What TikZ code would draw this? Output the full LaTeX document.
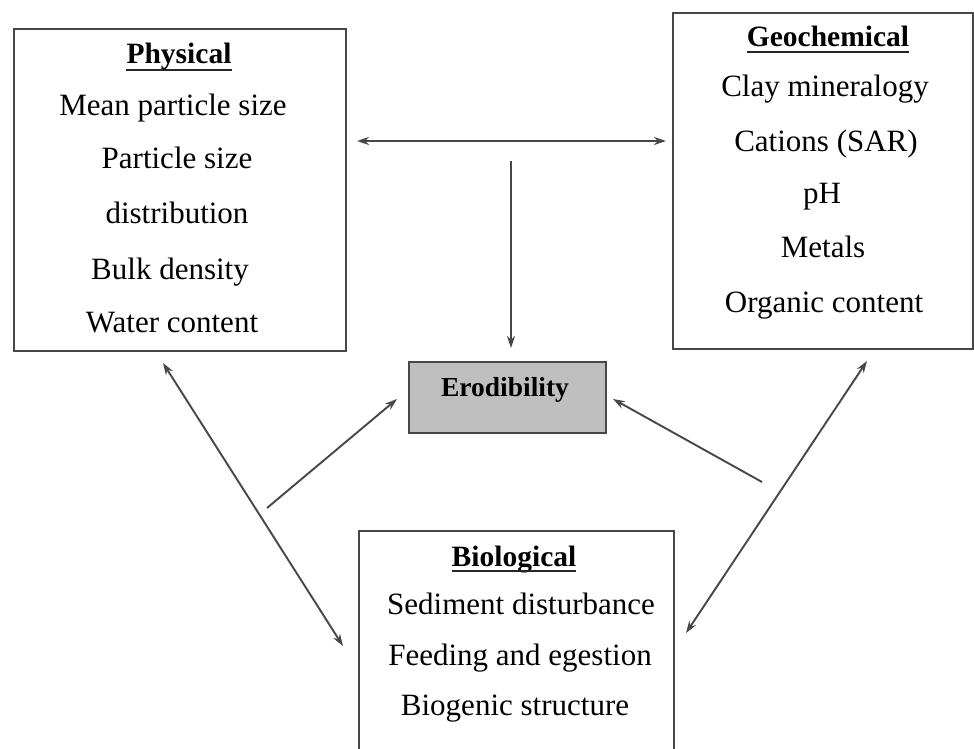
\documentclass[tikz,border=0pt]{standalone}
\usepackage{fontspec}
\setmainfont{Liberation Serif}
\usetikzlibrary{arrows.meta}
\begin{document}
\begin{tikzpicture}[x=1pt,y=-1pt,
  box/.style={draw=black!72,line width=2pt,inner sep=0pt,anchor=north west},
  txt/.style={inner sep=0pt,anchor=base,font=\fontsize{31}{37}\selectfont},
  head/.style={inner sep=0pt,anchor=base,font=\fontsize{29.5}{35}\selectfont\bfseries},
  uline/.style={line width=2.4pt,draw=black!85},
  conn/.style={draw=black!72,line width=1.9pt,-{Stealth[length=12pt,width=8pt]}},
  bicon/.style={draw=black!72,line width=1.9pt,{Stealth[length=12pt,width=8pt]}-{Stealth[length=12pt,width=8pt]}}]
\useasboundingbox (0,0) rectangle (974,749);
\clip (0,0) rectangle (974,749);
\fill[white] (0,0) rectangle (974,749);

% boxes
\node[box,minimum width=332pt,minimum height=322pt] (phys) at (13,28) {};
\node[box,minimum width=300pt,minimum height=336pt] (geo) at (672,12) {};
\node[box,fill=black!25,minimum width=197pt,minimum height=71pt] (ero) at (408,361) {};
\node[box,minimum width=315pt,minimum height=240pt] (bio) at (358,530) {};

% Physical
\node[head] (phH) at (179,64) {Physical};
\draw[uline] ([yshift=-6pt]phH.base west) -- ([yshift=-6pt]phH.base east);
\node[txt] (ph1) at (173,116) {Mean particle size};
\node[txt] (ph2) at (177,168) {Particle size};
\node[txt] (ph3) at (177,223) {distribution};
\node[txt] (ph4) at (170,279) {Bulk density};
\node[txt] (ph5) at (172,332) {Water content};

% Geochemical
\node[head] (geH) at (828,47) {Geochemical};
\draw[uline] ([yshift=-5pt]geH.base west) -- ([yshift=-5pt]geH.base east);
\node[txt] (ge1) at (825,97) {Clay mineralogy};
\node[txt] (ge2) at (826,151) {Cations (SAR)};
\node[txt] (ge3) at (822,203) {pH};
\node[txt] (ge4) at (823,257) {Metals};
\node[txt] (ge5) at (824,312) {Organic content};

% Erodibility
\node[head,font=\fontsize{27.5}{32}\selectfont\bfseries] (eroT) at (505,396) {Erodibility};

% Biological
\node[head] (biH) at (514,566) {Biological};
\draw[uline] ([yshift=-5pt]biH.base west) -- ([yshift=-5pt]biH.base east);
\node[txt] (bi1) at (521,614) {Sediment disturbance};
\node[txt] (bi2) at (520,665) {Feeding and egestion};
\node[txt] (bi3) at (515,715) {Biogenic structure};

% connector end points
\coordinate (hL) at (357,141);
\coordinate (hR) at (666,141);
\coordinate (vT) at (511,161);
\coordinate (vB) at (511,348);
\coordinate (ldA) at (163,363);
\coordinate (ldB) at (343,646);
\coordinate (lsA) at (267,508);
\coordinate (lsB) at (397,399);
\coordinate (rsA) at (762,482);
\coordinate (rsB) at (613,399);
\coordinate (rdA) at (867,361);
\coordinate (rdB) at (686,633);

\draw[bicon] (hL) -- (hR);
\draw[conn] (vT) -- (vB);
\draw[bicon] (ldA) -- (ldB);
\draw[conn] (lsA) -- (lsB);
\draw[conn] (rsA) -- (rsB);
\draw[bicon] (rdA) -- (rdB);
\end{tikzpicture}
\end{document}
